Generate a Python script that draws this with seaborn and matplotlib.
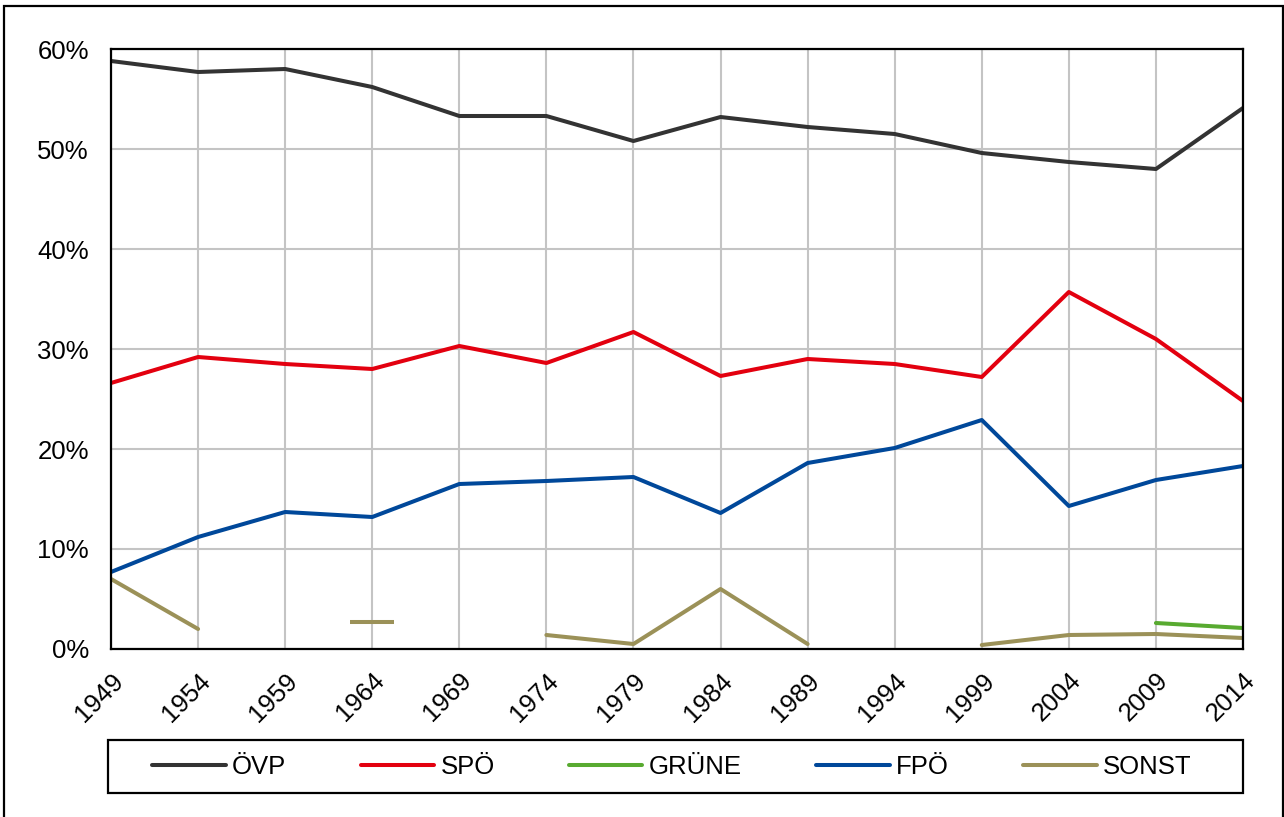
import numpy as np
import pandas as pd
import matplotlib
matplotlib.use('Agg')
import matplotlib.pyplot as plt
import matplotlib.patches as mpatches
from matplotlib.lines import Line2D
import seaborn as sns

# election years
years = [1949, 1954, 1959, 1964, 1969, 1974, 1979, 1984, 1989, 1994, 1999, 2004, 2009, 2014]

# vote shares in percent (NaN = no value)
oevp = [58.8, 57.7, 58.0, 56.2, 53.3, 53.3, 50.8, 53.2, 52.2, 51.5, 49.6, 48.7, 48.0, 54.1]
spoe = [26.6, 29.2, 28.5, 28.0, 30.3, 28.6, 31.7, 27.3, 29.0, 28.5, 27.2, 35.7, 31.0, 24.8]
gruene = [np.nan] * 12 + [2.6, 2.1]
fpoe = [7.7, 11.2, 13.7, 13.2, 16.5, 16.8, 17.2, 13.6, 18.6, 20.1, 22.9, 14.3, 16.9, 18.3]
sonst = [7.0, 2.0, np.nan, 2.7, np.nan, 1.4, 0.5, 6.0, 0.5, np.nan, 0.4, 1.4, 1.5, 1.1]

parties = ['ÖVP', 'SPÖ', 'GRÜNE', 'FPÖ', 'SONST']
values = [oevp, spoe, gruene, fpoe, sonst]
colors = {'ÖVP': '#333333', 'SPÖ': '#e3000f', 'GRÜNE': '#58aa30',
          'FPÖ': '#00489a', 'SONST': '#9b9158'}
GRID = '#c4c4c4'

sns.set_style('white')
plt.rcParams['font.family'] = ['Liberation Sans', 'DejaVu Sans']
plt.rcParams['text.color'] = 'black'

W, H = 1284, 817
fig = plt.figure(figsize=(W / 100, H / 100), dpi=100)
ax = fig.add_axes([111 / W, 1 - 649 / H, (1243 - 111) / W, (649 - 49) / H])

LW = 2.9
for name, vals in zip(parties, values):
    df = pd.DataFrame({'year': years, 'share': vals})
    # split into contiguous runs so gaps stay open
    run_id = df['share'].isna().cumsum()
    for _, seg in df.dropna().groupby(run_id[df['share'].notna()]):
        if len(seg) > 1:
            sns.lineplot(data=seg, x='year', y='share', color=colors[name],
                         linewidth=LW, ax=ax, legend=False, zorder=3)
        else:
            sns.lineplot(data=seg, x='year', y='share', color=colors[name],
                         marker='_', markersize=31, markeredgewidth=LW,
                         markeredgecolor=colors[name],
                         linewidth=0, ax=ax, legend=False, zorder=3)

ax.set_xlim(1949, 2014)
ax.set_ylim(0, 60)
ax.set_xticks(years)
ax.set_xticklabels([str(y) for y in years], rotation=45, ha='right',
                   rotation_mode='anchor')
ax.set_yticks(range(0, 61, 10))
ax.set_yticklabels([f'{v}%' for v in range(0, 61, 10)])
ax.set_xlabel('')
ax.set_ylabel('')
ax.grid(True, color=GRID, linewidth=1.5, zorder=0)
ax.set_axisbelow(True)
for sp in ax.spines.values():
    sp.set_color('black')
    sp.set_linewidth(1.6)
    sp.set_zorder(4)
ax.tick_params(axis='both', direction='out', length=8, width=1.5,
               color=GRID, labelcolor='black', labelsize=18.5, pad=6)
ax.tick_params(axis='y', pad=8)
# outer ticks continue the black frame
for tk in (ax.xaxis.get_major_ticks()[0], ax.xaxis.get_major_ticks()[-1],
           ax.yaxis.get_major_ticks()[0], ax.yaxis.get_major_ticks()[-1]):
    tk.tick1line.set_color('black')
    tk.tick1line.set_markeredgewidth(1.6)

# legend in a separate box below the axes
handles = [Line2D([], [], color=colors[p], linewidth=LW) for p in parties]
fig.legend(handles, parties, loc='center', bbox_to_anchor=(672 / W, 1 - 767 / H),
           ncol=5, frameon=False, fontsize=18.5, handlelength=2.85,
           handletextpad=0.25, columnspacing=2.9)
fig.patches.append(mpatches.Rectangle((108 / W, 1 - 793 / H), (1243 - 108) / W, 53 / H,
                                      transform=fig.transFigure, fill=False,
                                      edgecolor='black', linewidth=1.6))
# outer frame
fig.patches.append(mpatches.Rectangle((4 / W, -0.02), (1283 - 4) / W, 1 - 6 / H + 0.02,
                                      transform=fig.transFigure, fill=False,
                                      edgecolor='black', linewidth=1.6))

fig.savefig('out.png', dpi=100)
